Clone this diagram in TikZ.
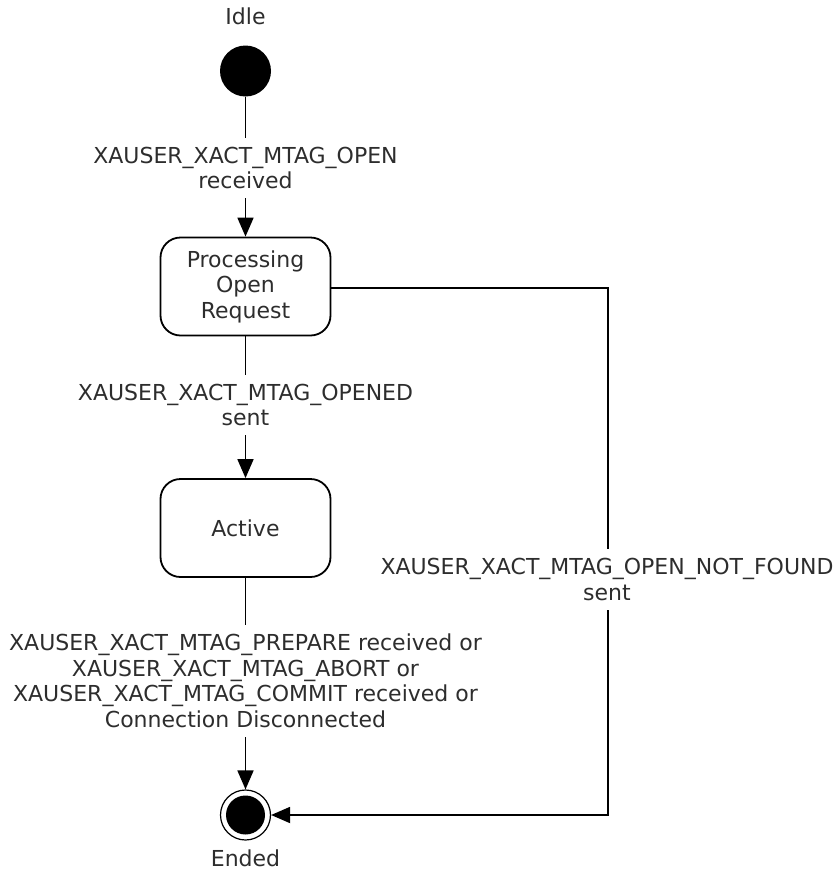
\documentclass[tikz,border=0pt]{standalone}
\usepackage{fontspec}
\setmainfont{DejaVu Sans}
\usetikzlibrary{arrows.meta}
\definecolor{txt}{RGB}{45,45,45}
\begin{document}
\begin{tikzpicture}[x=1pt,y=-1pt,
  every node/.style={font=\fontsize{22}{25.5}\selectfont,text=txt},
  statebox/.style={draw,line width=1.8pt,rounded corners=20pt,minimum width=170pt,minimum height=98pt,inner sep=0pt,align=center},
  startdot/.style={circle,fill=black,minimum size=51pt,inner sep=0pt},
  enddot/.style={circle,draw,line width=1.2pt,minimum size=50pt,inner sep=0pt,
    path picture={\fill[black] (path picture bounding box.center) circle (19.5pt);}},
  conn/.style={line width=1.8pt},
  arr/.style={conn,-{Triangle[length=19pt,width=16pt]}},
  lbl/.style={fill=white,align=center,inner sep=0pt,inner ysep=9pt},
  plain/.style={inner sep=0pt}
]
\useasboundingbox (0,0) rectangle (837,871);
% states
\node[startdot] (start) at (245.5,71) {};
\node[plain] (idle) at (245.5,16) {Idle};
\node[statebox] (open) at (245.5,286.5) {Processing\\Open\\Request};
\node[statebox] (active) at (245.5,528) {Active};
\node[enddot] (ended) at (245.5,815) {};
\node[plain] (endedlbl) at (245.5,858) {Ended};
\coordinate (corner) at (608,288);
% connectors
\draw[arr] (start) -- (open);
\draw[arr] (open) -- (active);
\draw[arr] (active) -- (ended);
\draw[arr] (open.east |- corner) -- (corner) |- (ended);
% labels
\node[lbl] (l1) at (245.5,168) {XAUSER\_XACT\_MTAG\_OPEN\\received};
\node[lbl] (l2) at (245.5,405) {XAUSER\_XACT\_MTAG\_OPENED\\sent};
\node[lbl] (l3) at (245.5,681) {XAUSER\_XACT\_MTAG\_PREPARE received or\\XAUSER\_XACT\_MTAG\_ABORT or\\XAUSER\_XACT\_MTAG\_COMMIT received or\\Connection Disconnected};
\node[lbl] (l4) at (607,579.5) {XAUSER\_XACT\_MTAG\_OPEN\_NOT\_FOUND\\sent};
\end{tikzpicture}
\end{document}
